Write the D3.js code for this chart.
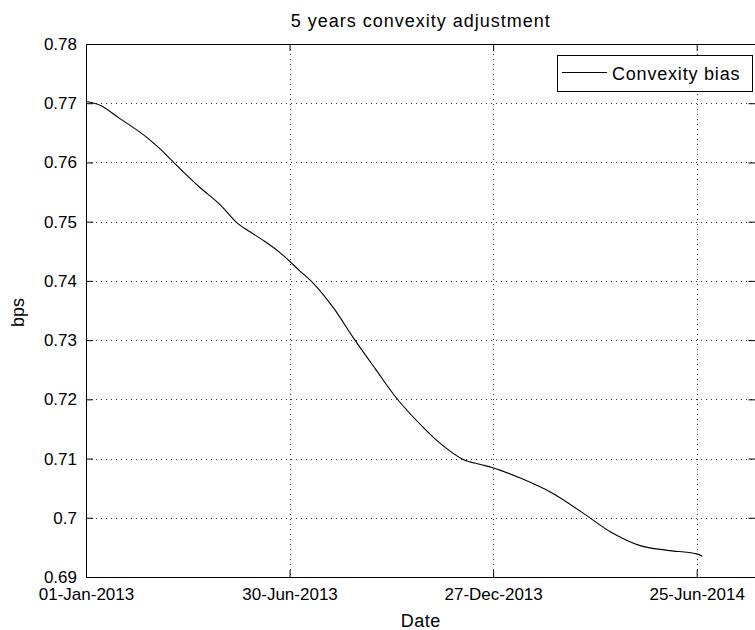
<!DOCTYPE html>
<html>
<head>
<meta charset="utf-8">
<script src="https://cdn.jsdelivr.net/npm/d3@7"></script>
<style>
  html, body { margin: 0; padding: 0; background: #fff; }
  svg { display: block; }
  text { font-family: "Liberation Sans", Arial, sans-serif; fill: #000; }
</style>
</head>
<body>
<svg id="chart" width="755" height="630"></svg>
<script>
// ---------------- data ----------------
const dates = [
  "2013-01-01","2013-01-13","2013-01-31","2013-02-24","2013-03-08","2013-03-19",
  "2013-04-11","2013-04-30","2013-05-15","2013-05-26","2013-06-07","2013-06-22",
  "2013-07-09","2013-07-21","2013-08-08","2013-08-25","2013-09-14","2013-10-03",
  "2013-10-24","2013-11-10","2013-12-01","2013-12-16","2013-12-26","2014-01-20",
  "2014-02-16","2014-03-15","2014-04-10","2014-05-06","2014-05-30","2014-06-25",
  "2014-06-30"
];
const convexityBias = [
  0.7703, 0.7697, 0.7674, 0.7642, 0.7622, 0.7601,
  0.7559, 0.7528, 0.7497, 0.7483, 0.7468, 0.7447,
  0.7417, 0.7396, 0.7354, 0.7305, 0.7251, 0.7201,
  0.7157, 0.7126, 0.7098, 0.7090, 0.7085, 0.7067,
  0.7043, 0.7010, 0.6976, 0.6953, 0.6945, 0.6939,
  0.6935
];
const xTickDates = ["2013-01-01","2013-06-30","2013-12-27","2014-06-25"];
const xDomain = ["2013-01-01","2014-08-16"];
const yTicks = [0.69,0.70,0.71,0.72,0.73,0.74,0.75,0.76,0.77,0.78];
const yTickLabels = ["0.69","0.7","0.71","0.72","0.73","0.74","0.75","0.76","0.77","0.78"];
const yDomain = [0.69, 0.78];
const titleText = "5 years convexity adjustment";
const xLabelText = "Date";
const yLabelText = "bps";
const seriesName = "Convexity bias";

// ---------------- layout ----------------
const L = 86, R = 755.5, T = 44, B = 577;
const parse = d3.timeParse("%Y-%m-%d");
const fmt = d3.timeFormat("%d-%b-%Y");
const svg = d3.select("#chart");

const x = d3.scaleTime().domain(xDomain.map(parse)).range([L, R]);
const y = d3.scaleLinear().domain(yDomain).range([B, T]);

const data = dates.map((d, i) => ({ date: parse(d), v: convexityBias[i] }));
const xt = xTickDates.map(parse);

// grid
const grid = svg.append("g").attr("stroke", "#333").attr("stroke-width", 1)
  .attr("stroke-dasharray", "1,4").attr("fill", "none");
yTicks.slice(1, -1).forEach(t => {
  const yy = Math.round(y(t)) + 0.5;
  grid.append("line").attr("x1", L).attr("x2", R).attr("y1", yy).attr("y2", yy);
});
xt.slice(1).forEach(t => {
  const xx = Math.round(x(t)) + 0.5;
  grid.append("line").attr("x1", xx).attr("x2", xx).attr("y1", T).attr("y2", B);
});

// line
svg.append("path")
  .datum(data)
  .attr("fill", "none")
  .attr("stroke", "#000")
  .attr("stroke-width", 1.1)
  .attr("d", d3.line().x(d => x(d.date)).y(d => y(d.v)).curve(d3.curveMonotoneX));

// axes (MATLAB style: inward ticks, box)
const tickLen = 7;
const xAxisB = d3.axisBottom(x).tickValues(xt).tickFormat(fmt).tickSizeInner(-tickLen).tickSizeOuter(0).tickPadding(11);
const xAxisT = d3.axisTop(x).tickValues(xt).tickFormat("").tickSizeInner(-tickLen).tickSizeOuter(0);
const yAxisL = d3.axisLeft(y).tickValues(yTicks).tickFormat((d, i) => yTickLabels[i]).tickSizeInner(-tickLen).tickSizeOuter(0).tickPadding(9);
const yAxisR = d3.axisRight(y).tickValues(yTicks).tickFormat("").tickSizeInner(-tickLen).tickSizeOuter(0);

function style(g) {
  g.selectAll("path.domain").attr("stroke", "#000").attr("stroke-width", 1);
  g.selectAll(".tick line").attr("stroke", "#000").attr("stroke-width", 1);
  g.selectAll(".tick text").attr("font-family", "Liberation Sans, Arial, sans-serif")
    .attr("font-size", 17).attr("fill", "#000");
}
svg.append("g").attr("transform", `translate(0,${B})`).call(xAxisB).call(style);
svg.append("g").attr("transform", `translate(0,${T})`).call(xAxisT).call(style);
svg.append("g").attr("transform", `translate(${L},0)`).call(yAxisL).call(style);
svg.append("g").attr("transform", `translate(${R},0)`).call(yAxisR).call(style);

// titles
svg.append("text").attr("x", (L + R) / 2).attr("y", 27).attr("text-anchor", "middle")
  .attr("font-size", 18).attr("letter-spacing", 1).text(titleText);
svg.append("text").attr("x", (L + R) / 2).attr("y", 627).attr("text-anchor", "middle")
  .attr("font-size", 18).attr("letter-spacing", 0.5).text(xLabelText);
svg.append("text").attr("transform", `translate(24,${(T + B) / 2 + 2}) rotate(-90)`)
  .attr("text-anchor", "middle").attr("font-size", 18).text(yLabelText);

// legend
const lg = svg.append("g");
lg.append("rect").attr("x", 557.5).attr("y", 55.5).attr("width", 195).attr("height", 36)
  .attr("fill", "#fff").attr("stroke", "#000").attr("stroke-width", 1);
lg.append("line").attr("x1", 562).attr("x2", 607).attr("y1", 72.5).attr("y2", 72.5)
  .attr("stroke", "#000").attr("stroke-width", 1);
lg.append("text").attr("x", 612).attr("y", 80).attr("font-size", 18)
  .attr("letter-spacing", 0.8).text(seriesName);
</script>
</body>
</html>
